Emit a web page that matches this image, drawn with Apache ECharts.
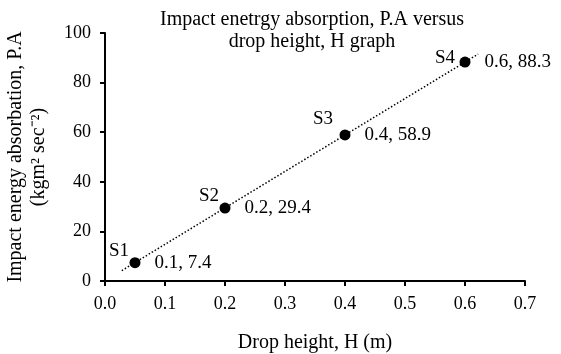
<!DOCTYPE html>
<html>
<head>
<meta charset="utf-8">
<script src="https://cdn.jsdelivr.net/npm/echarts@6/dist/echarts.min.js"></script>
<style>
  html, body { margin: 0; padding: 0; background: #fff; }
  #chart { width: 561px; height: 354px; }
</style>
</head>
<body>
<div id="chart"></div>
<script>
// data
const sampleNames = ['S1', 'S2', 'S3', 'S4'];
const dropHeight = [0.05, 0.2, 0.4, 0.6];
const energy = [7.4, 29.4, 58.9, 88.3];
const pointLabels = ['0.1, 7.4', '0.2, 29.4', '0.4, 58.9', '0.6, 88.3'];
const trendX = [0.028, 0.622];
const trendY = [4.2, 91.5];

// label nudges for the sample names (style only)
const nameOffsets = [[-16, -12], [-16, -12], [-22, -16], [-20, -4]];

const font = 'Liberation Serif';
const chartDom = document.getElementById('chart');
const myChart = echarts.init(chartDom);

const option = {
  animation: false,
  textStyle: { fontFamily: font, color: '#000' },
  title: {
    text: 'Impact enetrgy absorption, P.A versus\ndrop height, H graph',
    left: 307, top: 4, textAlign: 'center',
    textStyle: { fontFamily: font, fontSize: 20, lineHeight: 22, fontWeight: 'normal', color: '#000' }
  },
  grid: { left: 105, right: 36, top: 33, bottom: 73, outerBoundsMode: 'none' },
  xAxis: {
    type: 'value',
    min: 0, max: 0.7, interval: 0.1,
    name: 'Drop height, H (m)',
    nameLocation: 'middle',
    nameGap: 52,
    nameTextStyle: { fontFamily: font, fontSize: 20, color: '#000' },
    axisLine: { show: true, lineStyle: { color: '#000', width: 2 } },
    axisTick: { show: true, length: 5, lineStyle: { color: '#000', width: 2 } },
    axisLabel: {
      fontFamily: font, fontSize: 18, color: '#000', margin: 14,
      formatter: v => v.toFixed(1)
    },
    splitLine: { show: false }
  },
  yAxis: {
    type: 'value',
    min: 0, max: 100, interval: 20,
    name: 'Impact energy absorbation, P.A\n(kgm\u00b2 sec\u207b\u00b2)',
    nameLocation: 'middle',
    nameGap: 55,
    nameTextStyle: { fontFamily: font, fontSize: 20, color: '#000', lineHeight: 23 },
    axisLine: { show: true, lineStyle: { color: '#000', width: 2 } },
    axisTick: { show: true, length: 5, lineStyle: { color: '#000', width: 2 } },
    axisLabel: { fontFamily: font, fontSize: 18, color: '#000', margin: 14 },
    splitLine: { show: false }
  },
  series: [
    {
      type: 'line',
      data: trendX.map((x, i) => [x, trendY[i]]),
      showSymbol: false,
      silent: true,
      lineStyle: { color: '#000', width: 1.5, type: [1.5, 2] },
      z: 1
    },
    {
      type: 'scatter',
      symbolSize: 11,
      itemStyle: { color: '#000', opacity: 1 },
      data: dropHeight.map((x, i) => ({
        value: [x, energy[i]],
        label: {
          show: true,
          position: 'right',
          distance: 14,
          formatter: pointLabels[i],
          fontFamily: font, fontSize: 19, color: '#000'
        }
      })),
      z: 3
    },
    {
      type: 'scatter',
      symbolSize: 0,
      silent: true,
      itemStyle: { color: '#000', opacity: 1 },
      data: dropHeight.map((x, i) => ({
        value: [x, energy[i]],
        label: {
          show: true,
          position: 'inside',
          offset: nameOffsets[i],
          formatter: sampleNames[i],
          fontFamily: font, fontSize: 19, color: '#000'
        }
      })),
      z: 4
    }
  ]
};

option && myChart.setOption(option);
</script>
</body>
</html>
